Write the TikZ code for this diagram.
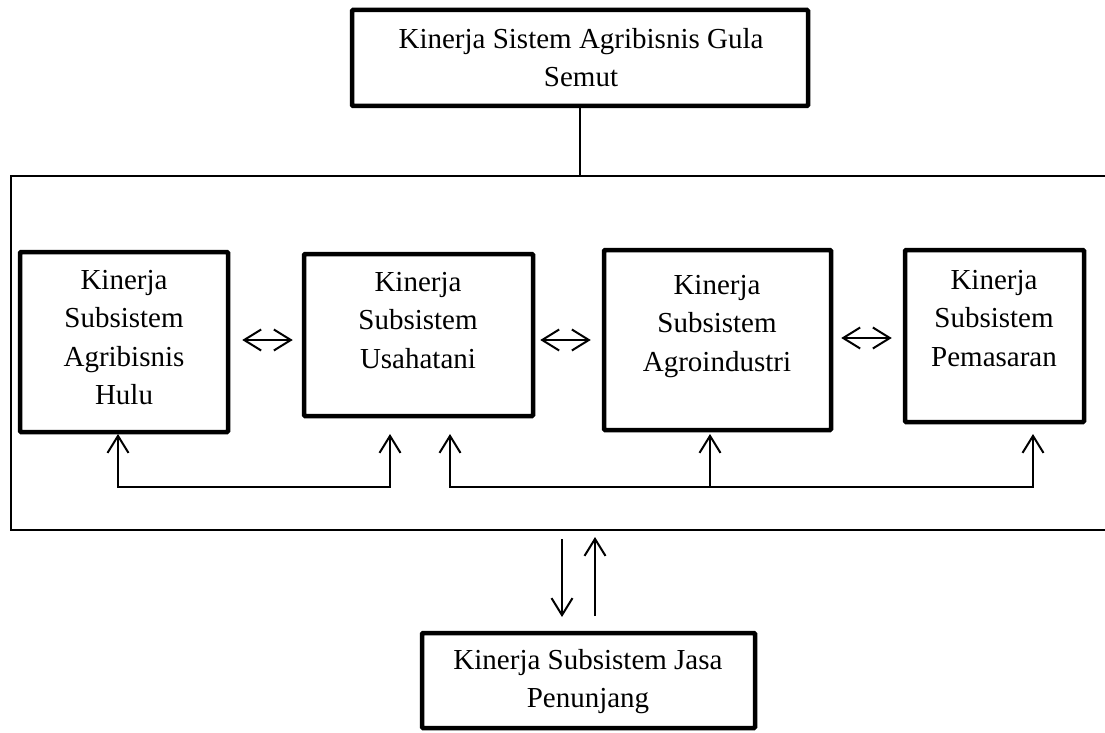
\documentclass[tikz,border=0pt]{standalone}
\usepackage{fontspec}
\setmainfont{Liberation Serif}
\usetikzlibrary{arrows.meta}
\begin{document}
\begin{tikzpicture}[x=1pt,y=-1pt,
  box/.style={draw, line width=4.5pt, inner sep=0pt, rounded corners=1pt},
  txt/.style={align=center, inner sep=0pt, anchor=north, font=\fontsize{29}{38.5}\selectfont},
  thinline/.style={line width=1.7pt},
  tip/.tip={Straight Barb[length=17pt,width=21pt,line width=2pt]},
  arr/.style={line width=2pt, -tip},
  dblarr/.style={line width=2pt, tip-tip}]
\useasboundingbox (0,0) rectangle (1105,733);
\fill[white] (0,0) rectangle (1105,733);
% boxes
\node[box, minimum width=456pt, minimum height=96pt] (t) at (580,58) {};
\node[box, minimum width=208pt, minimum height=180pt] (b1) at (124,342) {};
\node[box, minimum width=229pt, minimum height=162pt] (b2) at (418.5,335) {};
\node[box, minimum width=227pt, minimum height=180pt] (b3) at (717.5,340) {};
\node[box, minimum width=179pt, minimum height=172pt] (b4) at (994.5,336) {};
\node[box, minimum width=333pt, minimum height=95pt] (bb) at (588.5,680.5) {};
% texts
\node[txt] (tt) at (581,28) {Kinerja Sistem Agribisnis Gula\\Semut};
\node[txt] (t1) at (124,270) {Kinerja\\Subsistem\\Agribisnis\\Hulu};
\node[txt] (t2) at (418,272) {Kinerja\\Subsistem\\Usahatani};
\node[txt] (t3) at (717,275) {Kinerja\\Subsistem\\Agroindustri};
\node[txt] (t4) at (994,270) {Kinerja\\Subsistem\\Pemasaran};
\node[txt] (tb) at (588,649) {Kinerja Subsistem Jasa\\Penunjang};
% frame
\draw[thinline] (1120,176) -- (11,176) -- (11,530) -- (1120,530);
\coordinate (ftop) at (580,176);
\draw[thinline] (t.south) -- (ftop);
% horizontal double arrows
\draw[dblarr, shorten <=12pt, shorten >=9pt] (b1.east |- 0,340) -- (b2.west |- 0,340);
\draw[dblarr, shorten <=5pt, shorten >=11pt] (b2.east |- 0,340) -- (b3.west |- 0,340);
\draw[dblarr, shorten <=8pt, shorten >=11pt] (b3.east |- 0,338) -- (b4.west |- 0,338);
% bottom feedback arrows
\coordinate (u1) at (118,434);
\coordinate (u2) at (390,434);
\coordinate (u3) at (450,434);
\coordinate (u4) at (710,434);
\coordinate (u5) at (1033,434);
\coordinate (h1) at (118,487);
\coordinate (h5) at (1033,487);
\draw[dblarr] (u1) -- (h1) -| (u2);
\draw[dblarr] (u3) |- (h5) -- (u5);
\draw[arr] (u4 |- h5) -- (u4);
% vertical arrows to support subsystem
\coordinate (d1) at (562,539);
\coordinate (d2) at (562,617);
\coordinate (e1) at (595,616);
\coordinate (e2) at (595,537);
\draw[arr] (d1) -- (d2);
\draw[arr] (e1) -- (e2);
\end{tikzpicture}
\end{document}
